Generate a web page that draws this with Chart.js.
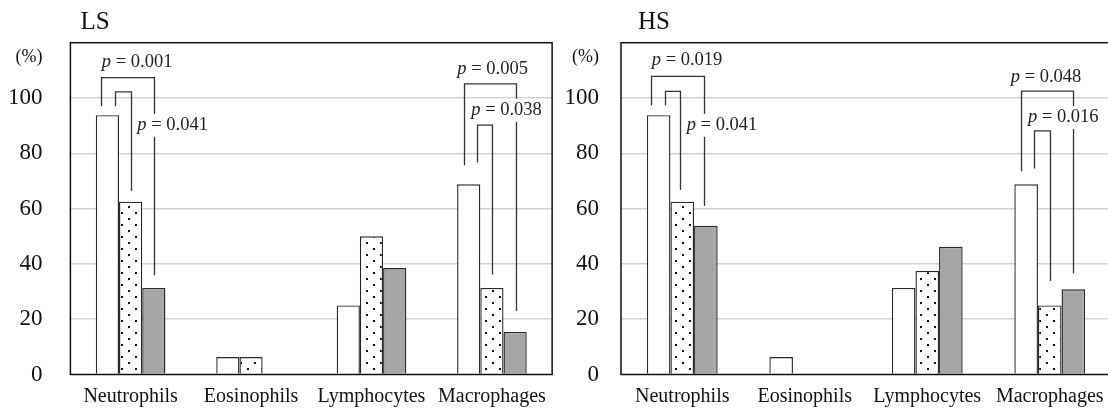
<!DOCTYPE html>
<html>
<head>
<meta charset="utf-8">
<script src="https://cdn.jsdelivr.net/npm/chart.js@4"></script>
<style>
  html, body { margin:0; padding:0; background:#fff; overflow:hidden; width:1108px; height:417px; }
  canvas { position:absolute; top:0; }
  #lsChart { left:0; }
  #hsChart { left:554px; }
</style>
</head>
<body>
<canvas id="lsChart" width="556" height="417"></canvas>
<canvas id="hsChart" width="560" height="417"></canvas>
<script>
const categories = ['Neutrophils', 'Eosinophils', 'Lymphocytes', 'Macrophages'];
const seriesNames = ['Group 1', 'Group 2', 'Group 3'];
const yTicks = [0, 20, 40, 60, 80, 100];

// LS panel
const lsWhite  = [93.8, 6.3, 25.0, 68.8];
const lsDotted = [62.5, 6.3, 50.0, 31.3];
const lsGray   = [31.3, 0,   38.5, 15.4];

// HS panel
const hsWhite  = [93.8, 6.3, 31.3, 68.8];
const hsDotted = [62.5, 0,   37.5, 25.0];
const hsGray   = [53.8, 0,   46.2, 30.8];

// significance brackets: [dataset, offset in bar widths] at each end, heights in %
const lsBrackets = [
    {cat:0, from:[0,-0.27], to:[2,0],    top:107.4, fromEnd:97.0, toEnd:35.9},
    {cat:0, from:[0,0.33],  to:[1,0],    top:102.2, fromEnd:97.0, toEnd:66.4},
    {cat:3, from:[0,-0.22], to:[2,0.03], top:105.1, fromEnd:75.7, toEnd:23.0},
    {cat:3, from:[0,0.37],  to:[1,0],    top:90.2,  fromEnd:76.7, toEnd:36.2}
];
const lsPLabels = [
    {cat:0, text:'0.001', y:113.0, dx:-1.24},
    {cat:0, text:'0.041', y:90.1,  dx:0.29},
    {cat:3, text:'0.005', y:110.3, dx:-1.49},
    {cat:3, text:'0.038', y:95.6,  dx:-0.89}
];
const hsBrackets = [
    {cat:0, from:[0,-0.32], to:[2,-0.07], top:107.8, fromEnd:97.4, toEnd:60.9},
    {cat:0, from:[0,0.26],  to:[1,-0.1],  top:102.4, fromEnd:97.4, toEnd:66.7},
    {cat:3, from:[0,-0.23], to:[2,0],     top:102.5, fromEnd:73.5, toEnd:36.6},
    {cat:3, from:[0,0.33],  to:[1,0],     top:88.1,  fromEnd:74.5, toEnd:33.8}
];
const hsPLabels = [
    {cat:0, text:'0.019', y:113.6, dx:-1.29},
    {cat:0, text:'0.041', y:90.1,  dx:0.19},
    {cat:3, text:'0.048', y:107.6, dx:-1.65},
    {cat:3, text:'0.016', y:92.9,  dx:-0.92}
];

const FONT = '"Liberation Serif", "Times New Roman", serif';

function dotPattern(){
    const pc = document.createElement('canvas');
    pc.width = 14; pc.height = 12;
    const c = pc.getContext('2d');
    c.fillStyle = '#fff';
    c.fillRect(0, 0, 14, 12);
    c.fillStyle = '#111';
    c.fillRect(2, 2, 2, 2);
    c.fillRect(9, 8, 2, 2);
    return c.createPattern(pc, 'repeat');
}

const panelPlugin = {
    id: 'panelDecor',
    afterDatasetsDraw(chart, args, opts){
        const ctx = chart.ctx;
        const area = chart.chartArea;
        const y = chart.scales.y;
        ctx.save();

        // brackets
        ctx.strokeStyle = '#333';
        ctx.lineWidth = 1.3;
        opts.brackets.forEach(b => {
            const b1 = chart.getDatasetMeta(b.from[0]).data[b.cat];
            const b2 = chart.getDatasetMeta(b.to[0]).data[b.cat];
            const x1 = Math.round(b1.x + b.from[1] * b1.width) + 0.5;
            const x2 = Math.round(b2.x + b2.width * b.to[1]) + 0.5;
            ctx.beginPath();
            ctx.moveTo(x1, y.getPixelForValue(b.fromEnd));
            ctx.lineTo(x1, y.getPixelForValue(b.top));
            ctx.lineTo(x2, y.getPixelForValue(b.top));
            ctx.lineTo(x2, y.getPixelForValue(b.toEnd));
            ctx.stroke();
        });

        // p values
        opts.labels.forEach(l => {
            const mid = chart.getDatasetMeta(1).data[l.cat];
            const x = mid.x + l.dx * mid.width;
            const yy = y.getPixelForValue(l.y);
            ctx.font = 'italic 18.5px ' + FONT;
            const wp = ctx.measureText('p').width;
            ctx.font = '18.5px ' + FONT;
            const rest = ' = ' + l.text;
            const wr = ctx.measureText(rest).width;
            ctx.fillStyle = '#fff';
            ctx.fillRect(x - 2, yy - 11.5, wp + wr + 4, 23);
            ctx.fillStyle = '#222';
            ctx.textBaseline = 'middle';
            ctx.textAlign = 'left';
            ctx.font = 'italic 18.5px ' + FONT;
            ctx.fillText('p', x, yy);
            ctx.font = '18.5px ' + FONT;
            ctx.fillText(rest, x + wp, yy);
        });

        // frame
        ctx.strokeStyle = '#111';
        ctx.lineWidth = 1.5;
        ctx.strokeRect(area.left, area.top, area.right - area.left, area.bottom - area.top);

        // title and unit
        ctx.fillStyle = '#111';
        ctx.textBaseline = 'middle';
        ctx.textAlign = 'left';
        ctx.font = '25px ' + FONT;
        ctx.fillText(opts.title, area.left + opts.titleDx, 22.5);
        ctx.textAlign = 'right';
        ctx.font = '18px ' + FONT;
        ctx.fillText('(%)', area.left - opts.tickPad, 57.5);
        ctx.restore();
    }
};

function makePanel(id, white, dotted, gray, cfg){
    const el = document.getElementById(id);
    const dots = dotPattern();
    return new Chart(el, {
        type: 'bar',
        data: {
            labels: categories,
            datasets: [
                {label: seriesNames[0], data: white,  backgroundColor: '#ffffff'},
                {label: seriesNames[1], data: dotted, backgroundColor: dots},
                {label: seriesNames[2], data: gray,   backgroundColor: '#a6a6a6'}
            ].map(d => Object.assign(d, {
                borderColor: '#2a2a2a',
                borderWidth: 1.4,
                barPercentage: 1,
                categoryPercentage: 0.578
            }))
        },
        options: {
            responsive: false,
            animation: false,
            events: [],
            layout: {padding: {top: 42.7, right: cfg.padRight, left: 0, bottom: 0}},
            plugins: {
                legend: {display: false},
                tooltip: {enabled: false},
                panelDecor: {
                    brackets: cfg.brackets,
                    labels: cfg.labels,
                    title: cfg.title,
                    titleDx: cfg.titleDx,
                    tickPad: cfg.tickPad
                }
            },
            scales: {
                y: {
                    min: 0,
                    max: 120,
                    afterBuildTicks: axis => { axis.ticks = yTicks.map(v => ({value: v})); },
                    afterFit: s => { s.width = cfg.axisWidth; },
                    ticks: {
                        font: {family: FONT, size: 23},
                        color: '#111',
                        padding: cfg.tickPad
                    },
                    grid: {
                        drawTicks: false,
                        lineWidth: 1.6,
                        color: c => (c.tick && c.tick.value === 0) ? 'rgba(0,0,0,0)' : '#d3d3d3'
                    },
                    border: {display: false}
                },
                x: {
                    afterFit: s => { s.height = 42.5; },
                    ticks: {
                        font: {family: FONT, size: 20},
                        color: '#111',
                        padding: 10,
                        maxRotation: 0
                    },
                    grid: {display: false, drawTicks: false},
                    border: {display: false}
                }
            }
        },
        plugins: [panelPlugin]
    });
}

function init(){
    makePanel('lsChart', lsWhite, lsDotted, lsGray, {
        brackets: lsBrackets, labels: lsPLabels, title: 'LS', titleDx: 10,
        tickPad: 28, axisWidth: 70.4, padRight: 1.7
    });
    makePanel('hsChart', hsWhite, hsDotted, hsGray, {
        brackets: hsBrackets, labels: hsPLabels, title: 'HS', titleDx: 17,
        tickPad: 22, axisWidth: 67, padRight: 3
    });
}
document.addEventListener('DOMContentLoaded', init);
</script>
</body>
</html>
